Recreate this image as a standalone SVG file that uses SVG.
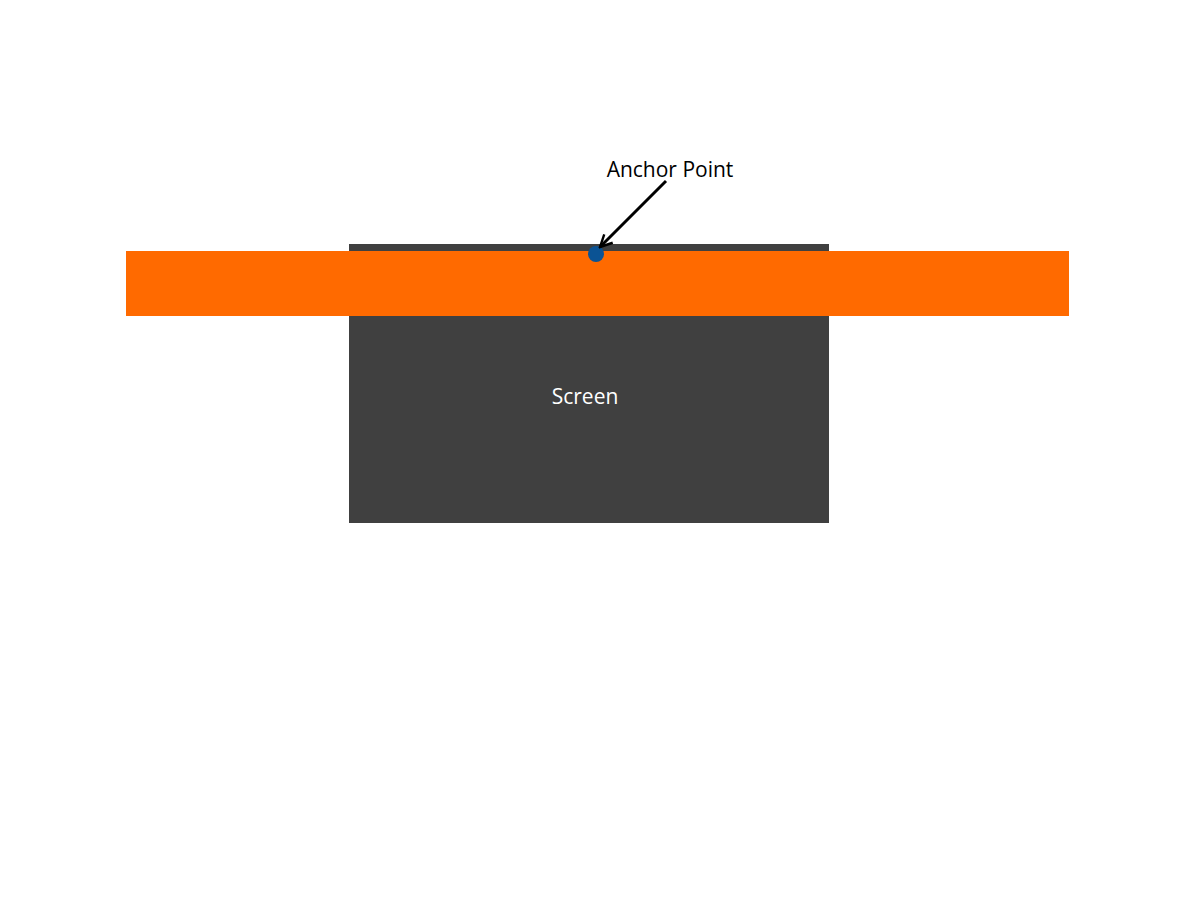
<svg xmlns="http://www.w3.org/2000/svg" width="1200" height="900" viewBox="0 0 1200 900">
<style>
text{font-family:"Open Sans","Liberation Sans",sans-serif;font-size:21px;text-anchor:middle}
</style>
<defs>
<marker id="ah" viewBox="0 0 10 10" refX="9" refY="5" markerWidth="5" markerHeight="5" orient="auto" markerUnits="strokeWidth">
<path d="M1,1 L9,5 L1,9" fill="none" stroke="#000" stroke-width="1.6"/>
</marker>
</defs>
<rect width="1200" height="900" fill="#fff"/>
<g id="screen">
<rect x="349" y="244" width="480" height="279" fill="#404040"/>
<text x="585" y="404" fill="#fff">Screen</text>
</g>
<g id="bar">
<rect x="126" y="251" width="943" height="65" fill="#ff6a00"/>
</g>
<g id="anchor">
<circle cx="596" cy="254" r="8" fill="#0b5394"/>
<text x="670" y="177" fill="#000">Anchor Point</text>
</g>
<g id="connectors">
<line x1="666" y1="181" x2="600" y2="247" stroke="#000" stroke-width="3" marker-end="url(#ah)"/>
</g>
</svg>
